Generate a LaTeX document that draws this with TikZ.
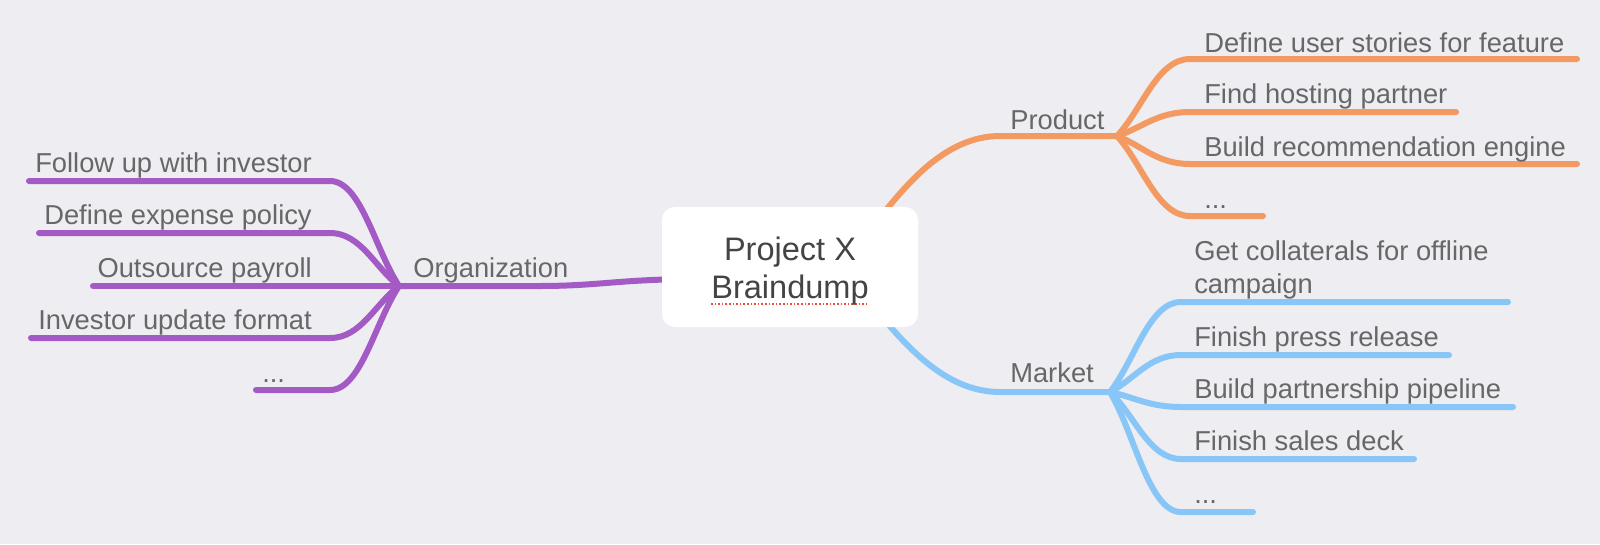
\documentclass[tikz,border=0pt]{standalone}
\usepackage{fontspec}
\setmainfont{Liberation Sans}
\usetikzlibrary{calc}
\definecolor{bg}{HTML}{EEEDF2}
\definecolor{mmorange}{HTML}{F29A62}
\definecolor{mmblue}{HTML}{88C6F8}
\definecolor{mmpurple}{HTML}{A45AC4}
\definecolor{txt}{HTML}{676767}
\definecolor{ctxt}{HTML}{444444}
\definecolor{spell}{HTML}{F04A3A}
% branch from hub #2 to line start #3, then straight to line end #4
\newcommand\mmlink[4]{\draw[#1] let \p1=(#2), \p2=(#3) in (#2) .. controls ({\x1+0.35*(\x2-\x1)},{\y1+0.35*(\y2-\y1)}) and ({\x1+0.55*(\x2-\x1)},{\y2}) .. (#3) -- (#4);}
\tikzset{
  branch/.style={line width=4.5pt, line cap=round, line join=round},
  pur/.style={branch, draw=mmpurple},
  ora/.style={branch, draw=mmorange},
  blu/.style={branch, draw=mmblue},
  lbl/.style={font=\fontsize{20.5}{24.75}\selectfont, text=txt, inner sep=0pt},
  lblr/.style={lbl, anchor=base west},
  lbll/.style={lbl, anchor=base east},
  central/.style={fill=white, rounded corners=9.75pt, minimum width=192pt, minimum height=90pt,
    inner sep=0pt},
}
\begin{document}
\begin{tikzpicture}[x=0.75pt,y=-0.75pt]
\fill[bg] (0,0) rectangle (1600,544);
\useasboundingbox (0,0) rectangle (1600,544);

% ---------- coordinates ----------
% Organization (left, purple)
\coordinate (orgA) at (700,279);
\coordinate (orgB) at (540,286);
\coordinate (orgH) at (399,286);
\coordinate (l1s) at (330,181); \coordinate (l1e) at (29,181);
\coordinate (l2s) at (330,233); \coordinate (l2e) at (39,233);
\coordinate (l3s) at (330,286); \coordinate (l3e) at (93,286);
\coordinate (l4s) at (330,338); \coordinate (l4e) at (31,338);
\coordinate (l5s) at (330,390); \coordinate (l5e) at (256,390);
% Product (right top, orange)
\coordinate (prA) at (872,228);
\coordinate (prB) at (1000,136);
\coordinate (prH) at (1117,136);
\coordinate (p1s) at (1190,59);  \coordinate (p1e) at (1577,59);
\coordinate (p2s) at (1190,112); \coordinate (p2e) at (1456,112);
\coordinate (p3s) at (1190,164); \coordinate (p3e) at (1577,164);
\coordinate (p4s) at (1190,216); \coordinate (p4e) at (1263,216);
% Market (right bottom, blue)
\coordinate (mkA) at (872,305);
\coordinate (mkB) at (1000,392);
\coordinate (mkH) at (1110,392);
\coordinate (m1s) at (1181,302); \coordinate (m1e) at (1508,302);
\coordinate (m2s) at (1181,355); \coordinate (m2e) at (1449,355);
\coordinate (m3s) at (1181,407); \coordinate (m3e) at (1513,407);
\coordinate (m4s) at (1181,459); \coordinate (m4e) at (1414,459);
\coordinate (m5s) at (1181,512); \coordinate (m5e) at (1253,512);

% ---------- trunks ----------
\draw[pur] (orgA) .. controls (620,279) and (600,286) .. (orgB) -- (orgH);
\draw[ora] (prA) .. controls (905,185) and (945,136) .. (prB) -- (prH);
\draw[blu] (mkA) .. controls (905,345) and (945,392) .. (mkB) -- (mkH);

% ---------- branches ----------
\mmlink{pur}{orgH}{l1s}{l1e}
\mmlink{pur}{orgH}{l2s}{l2e}
\mmlink{pur}{orgH}{l3s}{l3e}
\mmlink{pur}{orgH}{l4s}{l4e}
\mmlink{pur}{orgH}{l5s}{l5e}
\mmlink{ora}{prH}{p1s}{p1e}
\mmlink{ora}{prH}{p2s}{p2e}
\mmlink{ora}{prH}{p3s}{p3e}
\mmlink{ora}{prH}{p4s}{p4e}
\mmlink{blu}{mkH}{m1s}{m1e}
\mmlink{blu}{mkH}{m2s}{m2e}
\mmlink{blu}{mkH}{m3s}{m3e}
\mmlink{blu}{mkH}{m4s}{m4e}
\mmlink{blu}{mkH}{m5s}{m5e}

% ---------- central node ----------
\node[central] (ctr) at (790,267) {};
\draw[spell, line width=1.4pt, dash pattern=on 1.2pt off 1.5pt] (711,304) -- (869,304);
\node[align=center, text=ctxt, font=\fontsize{24.4}{28.5}\selectfont, inner sep=0pt, anchor=base]
  (ctrtext) at (790,298) {Project X\\Braindump};

% ---------- labels ----------
\node[lblr] (org) at (413,277) {Organization};
\node[lbll] (t1) at (312,172) {Follow up with investor};
\node[lbll] (t2) at (312,224) {Define expense policy};
\node[lbll] (t3) at (312,277) {Outsource payroll};
\node[lbll] (t4) at (312,329) {Investor update format};
\node[lblr] (t5) at (262,382) {...};

\node[lblr] (prod) at (1010,129) {Product};
\node[lblr] (q1) at (1204,52) {Define user stories for feature};
\node[lblr] (q2) at (1204,103) {Find hosting partner};
\node[lblr] (q3) at (1204,156) {Build recommendation engine};
\node[lblr] (q4) at (1204,208) {...};

\node[lblr] (mkt) at (1010,382) {Market};
\node[lblr, align=left] (r1) at (1194,293) {Get collaterals for offline\\campaign};
\node[lblr] (r2) at (1194,346) {Finish press release};
\node[lblr] (r3) at (1194,398) {Build partnership pipeline};
\node[lblr] (r4) at (1194,450) {Finish sales deck};
\node[lblr] (r5) at (1194,503) {...};
\end{tikzpicture}
\end{document}
